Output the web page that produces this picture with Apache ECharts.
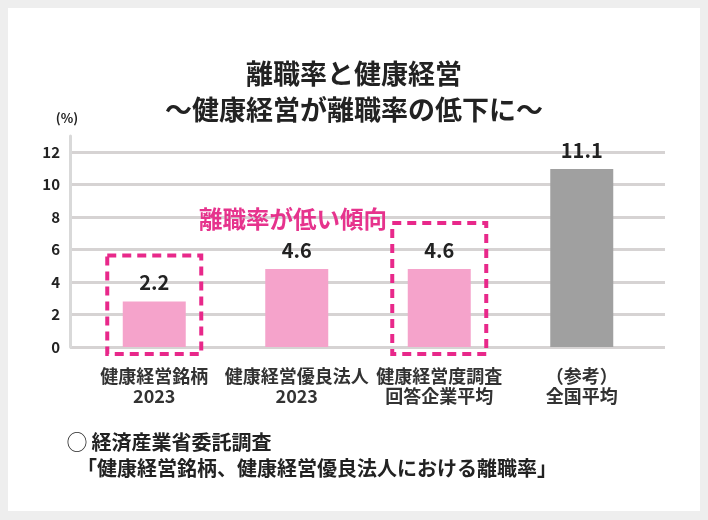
<!DOCTYPE html>
<html>
<head>
<meta charset="utf-8">
<script src="https://cdn.jsdelivr.net/npm/echarts@6/dist/echarts.min.js"></script>
<style>
  html, body { margin: 0; padding: 0; background: #eeeeee; }
  #chart { width: 708px; height: 520px; }
</style>
</head>
<body>
<div id="chart"></div>
<script>
// 離職率データ
var categories = ['健康経営銘柄\n2023', '健康経営優良法人\n2023', '健康経営度調査\n回答企業平均', '（参考）\n全国平均'];
var barHeights = [2.8, 4.8, 4.8, 10.95];   // 棒の高さ
var barLabels = ['2.2', '4.6', '4.6', '11.1']; // 表示されている数値
var barColors = ['#f5a3cb', '#f5a3cb', '#f5a3cb', '#a0a0a0'];
var boxed = [0, 2]; // 点線で囲む項目
var yTicks = { min: 0, max: 12, interval: 2 };

var FONT = '"Noto Sans CJK JP", "Noto Sans", sans-serif';

var chart = echarts.init(document.getElementById('chart'));
var option = {
    textStyle: { fontFamily: FONT },
    animation: false,
    graphic: [{
        id: 'card',
        type: 'rect',
        z: -10,
        shape: { x: 8, y: 8, width: 692, height: 503 },
        style: { fill: '#ffffff' }
    }],
    title: [
        {
            text: '離職率と健康経営\n〜健康経営が離職率の低下に〜',
            left: 'center',
            top: 51,
            textStyle: { fontFamily: FONT, fontSize: 27, fontWeight: 'bold', color: '#222', lineHeight: 36 }
        },
        {
            text: '離職率が低い傾向',
            left: 194,
            top: 202,
            textStyle: { fontFamily: FONT, fontSize: 23.5, fontWeight: 'bold', color: '#e6338d' }
        },
        {
            text: '◯ 経済産業省委託調査\n　「健康経営銘柄、健康経営優良法人における離職率」',
            left: 62,
            top: 424,
            textStyle: {
                fontFamily: FONT, fontSize: 20, fontWeight: 'bold', color: '#222', lineHeight: 26
            }
        }
    ],
    grid: [
        { left: 70, top: 136, bottom: 173, width: 1 },      // 縦軸線
        { left: 70, right: 43, top: 152, bottom: 173 },     // 目盛線
        { left: 83, right: 55, top: 152, bottom: 173 }      // 棒
    ],
    xAxis: [
        { gridIndex: 0, type: 'value', show: false },
        { gridIndex: 1, type: 'value', show: false },
        {
            gridIndex: 2,
            type: 'category',
            data: categories,
            axisLine: { show: false },
            axisTick: { show: false },
            axisLabel: {
                margin: 19,
                fontFamily: FONT,
                fontSize: 18,
                fontWeight: 'bold',
                color: '#333',
                lineHeight: 20,
                interval: 0
            }
        }
    ],
    yAxis: [
        {
            gridIndex: 0,
            type: 'value',
            min: 0,
            max: 1,
            name: '(%)',
            nameLocation: 'end',
            nameGap: 11,
            nameTextStyle: { fontFamily: FONT, fontSize: 13, fontWeight: 'bold', color: '#222', padding: [0, 6, 0, 0] },
            axisLine: { show: true, lineStyle: { color: '#d9d9d9', width: 3 } },
            axisTick: { show: false },
            axisLabel: { show: false },
            splitLine: { show: false }
        },
        {
            gridIndex: 1,
            type: 'value',
            min: yTicks.min,
            max: yTicks.max,
            interval: yTicks.interval,
            axisLine: { show: false },
            axisTick: { show: false },
            axisLabel: { margin: 10, fontFamily: FONT, fontSize: 15, fontWeight: 'bold', color: '#222' },
            splitLine: { lineStyle: { color: '#d6d3d3', width: 3 } }
        },
        {
            gridIndex: 2,
            type: 'value',
            min: yTicks.min,
            max: yTicks.max,
            show: false
        }
    ],
    series: [{
        type: 'bar',
        xAxisIndex: 2,
        yAxisIndex: 2,
        barWidth: 63,
        z: 5,
        data: barHeights.map(function (v, i) {
            return { value: v, itemStyle: { color: barColors[i] } };
        }),
        label: {
            show: true,
            position: 'top',
            distance: 9,
            fontFamily: FONT,
            fontSize: 20,
            fontWeight: 'bold',
            color: '#222',
            formatter: function (p) { return barLabels[p.dataIndex]; }
        }
    }]
};
chart.setOption(option);

// 点線の枠を棒の位置から描く
var boxes = boxed.map(function (i) {
    var top = chart.convertToPixel({ xAxisIndex: 2, yAxisIndex: 2 }, [i, barHeights[i]]);
    var base = chart.convertToPixel({ xAxisIndex: 2, yAxisIndex: 2 }, [i, 0]);
    return {
        id: 'box' + i,
        type: 'rect',
        z: 20,
        shape: { x: top[0] - 47, y: top[1] - 46, width: 94, height: base[1] + 7 - (top[1] - 46) },
        style: { fill: 'none', stroke: '#e8288a', lineWidth: 4, lineDash: [9, 6] }
    };
});
chart.setOption({ graphic: boxes });
</script>
</body>
</html>
